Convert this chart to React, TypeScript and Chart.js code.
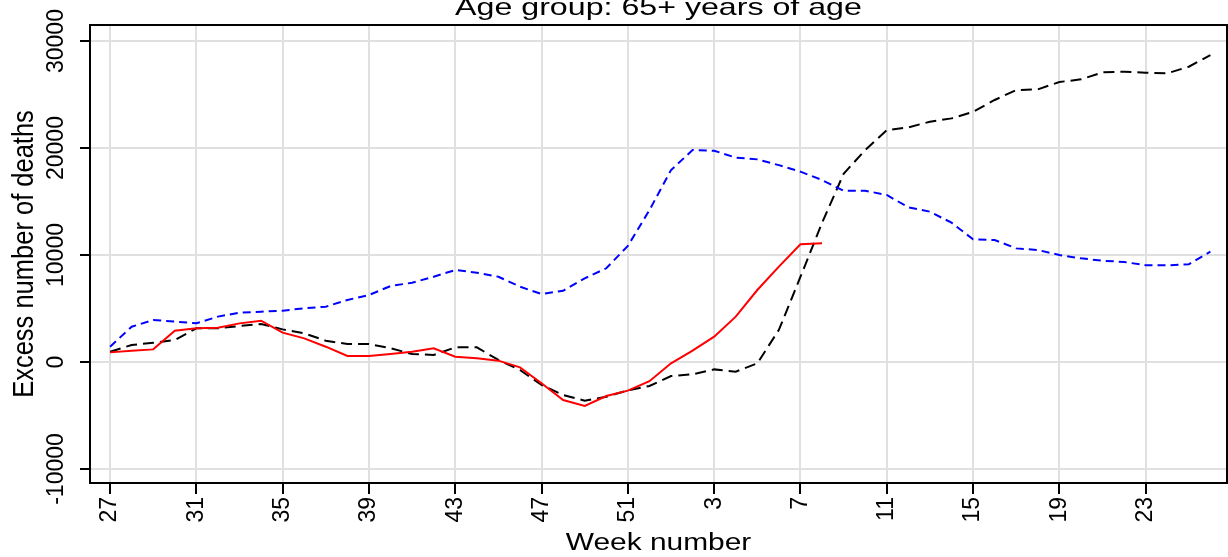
import React, { useEffect, useRef } from 'react';
import { Chart, registerables } from 'chart.js';

Chart.register(...registerables);

const FONT = "'Liberation Sans', Arial, Helvetica, sans-serif";

const titleText = 'Age group: 65+ years of age';
const xTitleText = 'Week number';
const yTitleText = 'Excess number of deaths';

// weeks 27..52 then 1..26
const weeks = [
  27, 28, 29, 30, 31, 32, 33, 34, 35, 36, 37, 38, 39, 40, 41, 42, 43, 44, 45, 46, 47, 48, 49, 50, 51, 52,
  1, 2, 3, 4, 5, 6, 7, 8, 9, 10, 11, 12, 13, 14, 15, 16, 17, 18, 19, 20, 21, 22, 23, 24, 25, 26,
];
const tickWeeks = [27, 31, 35, 39, 43, 47, 51, 3, 7, 11, 15, 19, 23];
const yTicks = [-10000, 0, 10000, 20000, 30000];

// blue dashed series
const blueSeries = [
  1430, 3300, 3925, 3770, 3615, 4240, 4610, 4700, 4800, 5020, 5170, 5800, 6260, 7100, 7410, 7970, 8600, 8350, 7970, 7040, 6350, 6660, 7820, 8760, 10850, 14200,
  17940, 19810, 19750, 19100, 18940, 18400, 17790, 17010, 16010, 16010, 15610, 14460, 14050, 13020, 11470, 11400, 10620, 10470, 10000, 9690, 9470, 9350, 9040, 9040, 9130, 10310,
];
// black dashed series
const blackSeries = [
  965, 1590, 1800, 2050, 3150, 3150, 3365, 3550, 3050, 2680, 1990, 1680, 1680, 1280, 750, 650, 1370, 1370, 190, -750, -2150, -3080, -3620, -3240, -2650, -2240,
  -1310, -1150, -690, -900, -125, 3000, 7970, 13000, 17600, 19810, 21680, 21930, 22460, 22770, 23390, 24490, 25420, 25480, 26170, 26420, 27070, 27130, 27040, 26980, 27600, 28690,
];
// red solid series (ends at week 8)
const redSeries = [
  900, 1060, 1180, 2920, 3150, 3210, 3610, 3860, 2740, 2210, 1430, 560, 560, 750, 965, 1280, 500, 345, 125, -500, -1990, -3550, -4110, -3180, -2680, -1790,
  -125, 1060, 2370, 4240, 6730, 8910, 11000, 11090,
];

const X_MIN = -0.93;
const X_MAX = 51.77;
const Y_MIN = -11310;
const Y_MAX = 31500;

const toPoints = (arr: number[]) => arr.map((v, i) => ({ x: i, y: v }));

const decorPlugin = {
  id: 'decor',
  afterDraw(chart: any) {
    const { ctx, chartArea: a, scales } = chart;
    ctx.save();
    // frame top/right
    ctx.strokeStyle = '#000';
    ctx.lineWidth = 2;
    ctx.beginPath();
    ctx.moveTo(a.left - 1, a.top);
    ctx.lineTo(a.right, a.top);
    ctx.lineTo(a.right, a.bottom + 1);
    ctx.stroke();

    ctx.fillStyle = '#000';
    // y tick labels, rotated
    const ys = scales.y;
    ctx.font = `23px ${FONT}`;
    ys.ticks.forEach((t: any) => {
      const py = ys.getPixelForValue(t.value);
      ctx.save();
      ctx.translate(a.left - 27, py);
      ctx.rotate(-Math.PI / 2);
      ctx.textAlign = 'center';
      ctx.textBaseline = 'alphabetic';
      ctx.fillText(String(t.value), 0, 0);
      ctx.restore();
    });

    const cx = (a.left + a.right) / 2;
    const cy = (a.top + a.bottom) / 2;

    // main title
    ctx.save();
    ctx.font = `24px ${FONT}`;
    ctx.translate(cx, a.top - 10);
    ctx.scale(1.34, 1);
    ctx.textAlign = 'center';
    ctx.textBaseline = 'alphabetic';
    ctx.fillText(titleText, 0, 0);
    ctx.restore();

    // x title
    ctx.save();
    ctx.font = `23px ${FONT}`;
    ctx.translate(cx, a.bottom + 67);
    ctx.scale(1.3, 1);
    ctx.textAlign = 'center';
    ctx.textBaseline = 'alphabetic';
    ctx.fillText(xTitleText, 0, 0);
    ctx.restore();

    // y title
    ctx.save();
    ctx.font = `25.5px ${FONT}`;
    ctx.translate(a.left - 57, cy);
    ctx.rotate(-Math.PI / 2);
    ctx.scale(1, 1.18);
    ctx.textAlign = 'center';
    ctx.textBaseline = 'alphabetic';
    ctx.fillText(yTitleText, 0, 0);
    ctx.restore();

    ctx.restore();
  },
};

export default function App() {
  const ref = useRef<HTMLCanvasElement | null>(null);

  useEffect(() => {
    if (!ref.current) return;
    const tickIdx = tickWeeks.map((w) => weeks.indexOf(w));
    const chart = new Chart(ref.current, {
      type: 'line',
      data: {
        datasets: [
          {
            label: 'red',
            data: toPoints(redSeries),
            borderColor: '#ff0000',
            borderWidth: 2,
            pointRadius: 0,
            tension: 0,
            fill: false,
          },
          {
            label: 'blue',
            data: toPoints(blueSeries),
            borderColor: '#0000ff',
            borderWidth: 2,
            borderDash: [8, 5],
            pointRadius: 0,
            tension: 0,
            fill: false,
          },
          {
            label: 'black',
            data: toPoints(blackSeries),
            borderColor: '#000000',
            borderWidth: 2,
            borderDash: [11, 6],
            pointRadius: 0,
            tension: 0,
            fill: false,
          },
        ],
      },
      options: {
        responsive: false,
        animation: false,
        devicePixelRatio: 1,
        layout: { padding: { top: 25, right: 1, left: 0, bottom: 0 } },
        plugins: {
          legend: { display: false },
          tooltip: { enabled: false },
          title: { display: false },
        },
        scales: {
          x: {
            type: 'linear',
            min: X_MIN,
            max: X_MAX,
            afterBuildTicks: (scale: any) => {
              scale.ticks = tickIdx.map((v) => ({ value: v }));
            },
            afterFit: (scale: any) => {
              scale.height = 74;
            },
            ticks: {
              autoSkip: false,
              minRotation: 90,
              maxRotation: 90,
              padding: 3,
              color: '#000',
              font: { family: FONT, size: 23 },
              callback: (value: any) => String(weeks[Math.round(Number(value))] ?? ''),
            },
            grid: {
              color: '#e0e0e0',
              lineWidth: 2,
              drawTicks: true,
              tickLength: 11,
              tickColor: '#000',
              tickWidth: 2,
            },
            border: { display: true, color: '#000', width: 2 },
          },
          y: {
            type: 'linear',
            min: Y_MIN,
            max: Y_MAX,
            afterBuildTicks: (scale: any) => {
              scale.ticks = yTicks.map((v) => ({ value: v }));
            },
            afterFit: (scale: any) => {
              scale.width = 90;
            },
            ticks: { display: false },
            grid: {
              color: '#e0e0e0',
              lineWidth: 2,
              drawTicks: true,
              tickLength: 10,
              tickColor: '#000',
              tickWidth: 2,
            },
            border: { display: true, color: '#000', width: 2 },
          },
        },
      },
      plugins: [decorPlugin],
    } as any);
    return () => chart.destroy();
  }, []);

  return (
    <div style={{ position: 'fixed', left: 0, top: 0, width: 1228, height: 557, background: '#fff' }}>
      <canvas ref={ref} width={1228} height={557} style={{ display: 'block' }} />
    </div>
  );
}
